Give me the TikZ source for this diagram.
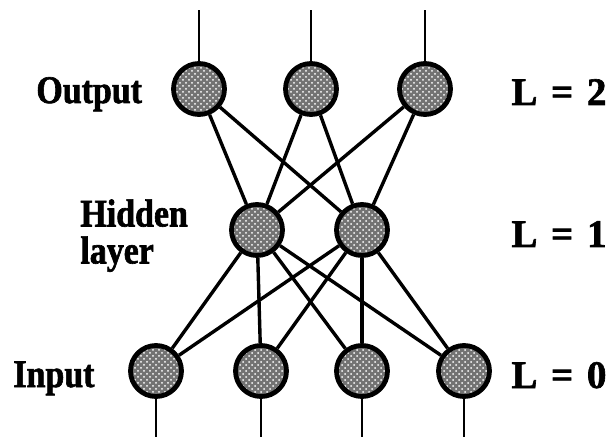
\documentclass[tikz,border=0pt]{standalone}
\usepackage{fontspec}
\setmainfont{Liberation Serif}
\newfontfamily\wordfont{Liberation Serif Bold}[FakeStretch=0.87, FakeBold=1.6]
\newfontfamily\levelfont{Liberation Serif Bold}[FakeBold=1.6]
\usetikzlibrary{patterns}
\begin{document}
\begin{tikzpicture}[x=0.5pt,y=-0.5pt,
  neuron/.style={circle, draw, line width=2.4pt, minimum size=25.5pt, inner sep=0pt,
    preaction={fill=black!55}, pattern=crosshatch dots, pattern color=white},
  link/.style={line width=1.7pt},
  lead/.style={line width=1.4pt},
  word/.style={font=\wordfont\fontsize{19.5}{18.5}\selectfont, inner sep=0pt, anchor=base west},
  level/.style={font=\levelfont\fontsize{19.5}{20}\selectfont, inner sep=0pt, anchor=base west}]
\path[use as bounding box] (0,0) rectangle (614,437);

% neurons
\node[neuron] (o1) at (199,89) {};
\node[neuron] (o2) at (311,89) {};
\node[neuron] (o3) at (425,89) {};
\node[neuron] (h1) at (257,230) {};
\node[neuron] (h2) at (362,230) {};
\node[neuron] (i1) at (156,371) {};
\node[neuron] (i2) at (261,371) {};
\node[neuron] (i3) at (362,371) {};
\node[neuron] (i4) at (464,371) {};

% free ends of the leads
\coordinate (t1) at (199,10);
\coordinate (t2) at (311,10);
\coordinate (t3) at (425,10);
\coordinate (b1) at (156,437);
\coordinate (b2) at (261,437);
\coordinate (b3) at (362,437);
\coordinate (b4) at (464,437);

\foreach \n in {1,2,3} \draw[lead] (o\n) -- (t\n);
\foreach \n in {1,2,3,4} \draw[lead] (i\n) -- (b\n);

\foreach \o in {o1,o2,o3}
  \foreach \h in {h1,h2}
    \draw[link] (\o) -- (\h);
\foreach \h in {h1,h2}
  \foreach \i in {i1,i2,i3,i4}
    \draw[link] (\h) -- (\i);

% labels
\node[word] (lout) at (36,103) {Output};
\node[word, align=left, anchor=north west] (lhid) at (80,199) {Hidden\\layer};
\node[word] (lin) at (13,387) {Input};
\node[level] (l2) at (511,105) {L\hspace{0.35em}=\hspace{0.35em}2};
\node[level] (l1) at (511,247) {L\hspace{0.35em}=\hspace{0.35em}1};
\node[level] (l0) at (511,388) {L\hspace{0.35em}=\hspace{0.35em}0};
\end{tikzpicture}
\end{document}
